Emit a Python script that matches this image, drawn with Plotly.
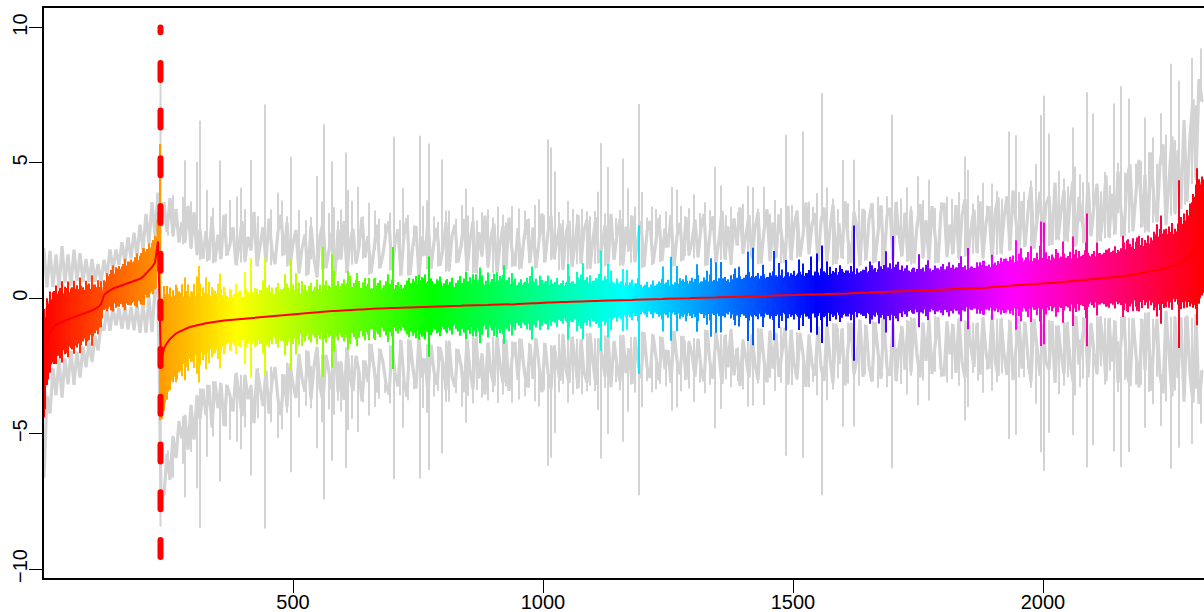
import colorsys
import plotly.graph_objects as go

# column positions: one value every 6 x-units starting at x=2
col_start = 2
col_step = 6

median = [
-2.4,-1.6,-1.25,-1.08,-.98,-.92,-.87,-.82,-.78,-.74,-.70,-.67,-.63,-.59,-.55,-.5,-.45,-.39,-.33,-.22,
.12,.22,.3,.36,.4,.44,.47,.51,.55,.58,.62,.66,.72,.8,.92,1.03,1.15,1.32,2.1,-2.35,
-1.85,-1.65,-1.5,-1.4,-1.3,-1.24,-1.18,-1.13,-1.09,-1.05,-1.02,-.99,-.96,-.94,-.92,-.9,-.88,-.87,-.85,-.84,
-.82,-.81,-.8,-.78,-.77,-.76,-.75,-.74,-.73,-.72,-.71,-.70,-.69,-.68,-.67,-.66,-.65,-.64,-.63,-.62,
-.61,-.6,-.6,-.59,-.58,-.57,-.56,-.55,-.54,-.53,-.52,-.51,-.5,-.5,-.49,-.48,-.47,-.47,-.46,-.45,
-.45,-.44,-.43,-.43,-.42,-.41,-.41,-.4,-.4,-.39,-.39,-.38,-.38,-.37,-.37,-.36,-.36,-.36,-.35,-.35,
-.35,-.34,-.34,-.33,-.33,-.33,-.32,-.32,-.31,-.31,-.31,-.3,-.3,-.3,-.29,-.29,-.29,-.28,-.28,-.28,
-.27,-.27,-.27,-.26,-.26,-.26,-.25,-.25,-.25,-.24,-.24,-.24,-.23,-.23,-.23,-.22,-.22,-.22,-.21,-.2,
-.19,-.19,-.18,-.18,-.18,-.17,-.17,-.16,-.16,-.16,-.15,-.15,-.14,-.14,-.14,-.13,-.13,-.12,-.12,-.12,
-.11,-.11,-.1,-.1,-.1,-.09,-.09,-.09,-.08,-.08,-.08,-.07,-.07,-.07,-.06,-.06,-.06,-.05,-.05,-.05,
-.05,-.04,-.04,-.04,-.03,-.03,-.03,-.02,-.02,-.02,-.01,-.01,-.01,0,0,0,.01,.01,.01,.02,
.02,.02,.03,.03,.03,.04,.04,.04,.05,.05,.05,.06,.06,.06,.07,.07,.07,.08,.08,.08,
.09,.09,.09,.1,.1,.1,.11,.11,.11,.12,.12,.12,.13,.13,.13,.14,.14,.14,.15,.15,
.15,.16,.16,.16,.17,.17,.18,.18,.18,.19,.19,.2,.2,.2,.21,.21,.22,.22,.22,.23,
.23,.24,.24,.25,.25,.25,.26,.26,.27,.27,.28,.28,.28,.29,.29,.3,.3,.31,.31,.32,
.32,.33,.33,.34,.34,.35,.35,.36,.36,.37,.37,.38,.38,.39,.39,.4,.41,.42,.43,.45,
.46,.47,.48,.48,.49,.5,.5,.51,.51,.52,.53,.53,.54,.55,.55,.56,.57,.57,.58,.59,
.6,.61,.62,.63,.64,.65,.66,.67,.68,.69,.7,.71,.72,.73,.74,.75,.76,.77,.78,.8,
.81,.83,.85,.87,.89,.91,.93,.95,.97,.99,1.01,1.03,1.06,1.09,1.12,1.15,1.18,1.22,1.26,1.3,
1.38,1.46,1.6,1.75,1.9,2.1,2.3]

colour_core = [
1.5,1.25,1.15,1.05,1.1,.95,1.0,.9,.95,.85,.8,.9,.75,.8,.7,.75,.65,.7,.6,.55,
.3,.35,.4,.35,.45,.4,.5,.45,.55,.5,.55,.6,.55,.65,.6,.7,.6,.7,.8,.9,
1.9,1.7,1.5,1.3,1.25,1.1,1.15,1.0,1.05,.95,1.0,.9,.95,.85,.9,.85,.8,.9,.8,.85,
.65,.7,.6,.7,.65,.6,.65,.55,.65,.6,.65,.55,.6,.65,.55,.6,.65,.55,.6,.55,
.6,.55,.65,.55,.6,.5,.6,.55,.6,.65,.55,.6,.5,.55,.6,.5,.55,.6,.55,.65,
.65,.7,.6,.75,.65,.7,.6,.65,.55,.6,.5,.55,.6,.5,.55,.45,.5,.55,.45,.5,
.45,.55,.5,.6,.65,.6,.7,.8,.7,.75,.65,.6,.65,.55,.5,.55,.6,.5,.55,.45,
.55,.5,.6,.55,.65,.6,.65,.55,.6,.5,.65,.55,.6,.65,.55,.6,.5,.55,.45,.5,
.45,.5,.55,.45,.4,.5,.45,.4,.45,.35,.4,.45,.35,.4,.35,.45,.4,.5,.45,.55,
.65,.7,.6,.55,.6,.65,.7,.6,.65,.55,.6,.5,.55,.45,.5,.45,.5,.4,.45,.4,
.35,.4,.35,.4,.35,.4,.45,.4,.45,.4,.35,.4,.45,.5,.55,.5,.45,.55,.45,.5,
.45,.5,.55,.5,.45,.5,.45,.5,.4,.45,.5,.55,.5,.45,.5,.55,.6,.5,.55,.5,
.55,.5,.55,.6,.5,.55,.6,.55,.65,.6,.65,.55,.6,.65,.6,.65,.6,.55,.6,.55,
.6,.65,.55,.6,.65,.6,.55,.65,.6,.7,.6,.65,.55,.6,.65,.6,.65,.7,.65,.6,
.7,.65,.75,.7,.75,.65,.7,.65,.6,.55,.65,.6,.55,.6,.7,.6,.55,.65,.6,.7,
.55,.6,.55,.65,.6,.65,.55,.6,.65,.6,.55,.6,.65,.7,.6,.65,.55,.6,.65,.7,
.7,.65,.7,.75,.8,.7,.75,.7,.85,.75,.7,.75,.8,.7,.75,.7,.75,.65,.7,.65,
.7,.65,.75,.7,.8,.7,.65,.75,.7,.65,.7,.75,.7,.65,.7,.75,.7,.8,.7,.75,
.75,.8,.7,.8,.75,.85,.8,.75,.85,.8,.9,1.1,1.0,.85,.9,.95,1.05,.9,1.0,1.1,
1.15,1.2,1.3,1.5,1.8,1.9,2.0]

colour_thin = [
2.0,1.6,1.5,1.3,1.45,1.2,1.5,1.25,1.4,1.1,1.35,1.15,1.4,1.0,1.2,1.05,1.3,.9,1.0,.85,
.55,.7,.6,.85,.65,.75,.7,.95,.8,.85,.75,1.0,.85,1.05,.8,1.0,.9,1.0,1.1,1.3,
2.3,2.1,1.9,1.7,1.8,1.5,1.7,1.4,1.6,1.3,1.55,1.2,1.5,1.35,1.2,1.5,1.3,1.15,1.4,1.2,
1.25,.9,1.15,.85,1.3,1.0,.8,1.2,.95,1.3,.85,1.05,1.0,1.35,.85,1.15,1.05,.8,1.2,.95,
1.0,1.15,.85,1.1,.8,1.15,.95,1.05,.75,1.1,.85,1.2,1.0,.8,1.15,.95,1.05,.75,1.1,.9,
1.15,1.0,1.25,.85,1.1,1.05,.8,1.15,.95,.75,1.1,.85,1.05,.75,1.0,.8,1.05,.7,.95,.85,
.75,1.0,.8,1.05,1.15,.85,1.1,1.2,.95,1.05,.8,1.0,1.1,.75,.95,.8,1.05,.7,.95,.8,
1.0,.8,1.05,.85,1.15,.95,1.1,.75,1.0,.85,1.15,.8,1.05,1.1,.85,1.0,.75,.95,.7,.9,
.75,.95,1.0,.7,.9,.65,.85,.75,.65,.85,.7,.9,.65,.8,.7,.95,.75,.65,.9,1.0,
.75,.9,.95,.7,.85,1.0,.75,.9,.7,.95,.65,.8,.6,.85,.65,.55,.75,.6,.8,.55,
.5,.65,.45,.7,.5,.65,.75,.55,.7,.8,.5,.65,.75,.7,.85,.55,.75,.7,.85,.6,
.75,.7,.85,.6,.8,.7,.55,.75,.65,.8,.85,.7,.75,.65,.8,.9,.75,.7,.85,.75,
.8,.7,.85,.9,.75,.8,.95,.7,.85,.8,.9,.75,.85,.95,.8,.9,.7,.85,.8,.95,
.85,.9,.75,.85,.95,.8,.9,.75,.85,1.0,.8,.9,.75,.85,.95,.8,1.0,.9,.85,.95,
1.0,.85,1.05,.9,1.0,.8,.95,.85,.75,.7,.85,.8,.7,.85,.95,.75,.7,.9,.8,.85,
.7,.85,.75,.9,.8,.95,.7,.85,.9,.8,.75,.85,.95,1.0,.8,.85,.75,.9,.95,1.05,
1.0,.9,1.05,1.1,.95,1.15,1.0,.9,1.2,1.05,.95,1.15,1.1,.95,1.15,1.0,1.05,.9,1.1,.95,
1.05,.9,1.1,1.0,1.15,.95,.9,1.1,1.0,.85,1.05,1.15,.95,.9,1.05,1.1,.95,1.15,1.0,1.05,
1.25,1.3,1.15,1.35,1.2,1.4,1.3,1.2,1.35,1.25,1.45,1.7,1.5,1.3,1.45,1.5,1.6,1.35,1.5,1.7,
1.75,1.8,1.9,2.1,2.3,2.3,2.2]

colour_thin2 = [
1.7,1.4,1.2,1.35,1.15,1.3,1.05,1.2,1.0,1.15,1.05,.95,1.1,.9,1.05,.85,.95,.8,.75,.5,
.5,.6,.75,.55,.7,.65,.8,.7,.8,.75,.9,.75,.95,.85,.9,.85,1.0,.95,1.2,2.1,
2.0,1.8,1.55,1.5,1.35,1.45,1.25,1.4,1.15,1.3,1.1,1.25,1.05,1.15,1.1,1.0,1.2,1.05,1.1,.95,
1.05,.85,1.1,.95,.9,1.05,.8,1.1,.85,.95,1.1,.85,1.0,.8,1.05,.9,.8,1.05,.85,.95,
.85,1.0,.8,.9,.95,.75,.9,.85,1.0,.8,.95,.85,.75,1.0,.8,.9,.85,.95,.8,1.0,
.9,1.05,.85,1.0,.9,.8,1.0,.85,.9,.75,.85,.95,.7,.85,.8,.9,.7,.85,.75,.7,
.85,.75,.9,.95,.85,1.0,1.05,.9,.85,.95,.85,.95,.75,.85,.8,.9,.75,.85,.7,.85,
.8,.9,.8,.95,.85,1.0,.8,.9,.75,.95,.85,.9,.95,.8,.9,.75,.85,.7,.8,.7,
.8,.75,.7,.8,.65,.75,.7,.8,.65,.7,.75,.65,.7,.6,.75,.7,.75,.65,.8,.7,
.8,.7,.65,.75,.8,.7,.75,.8,.65,.7,.6,.65,.7,.55,.6,.65,.5,.6,.5,.45,
.55,.45,.55,.5,.55,.6,.5,.6,.5,.55,.6,.55,.65,.6,.65,.65,.6,.7,.55,.6,
.65,.6,.7,.65,.6,.65,.7,.6,.55,.65,.7,.6,.65,.7,.6,.7,.65,.75,.65,.7,
.65,.7,.75,.65,.7,.75,.65,.8,.7,.75,.7,.8,.75,.7,.8,.75,.7,.75,.7,.75,
.8,.7,.75,.8,.7,.75,.8,.85,.75,.8,.7,.75,.8,.85,.75,.8,.85,.75,.8,.85,
.8,.9,.85,.9,.75,.8,.75,.7,.75,.8,.7,.75,.8,.7,.75,.8,.75,.8,.75,.7,
.75,.7,.8,.75,.8,.75,.8,.7,.75,.8,.75,.8,.85,.75,.8,.75,.85,.8,.85,.9,
.85,.9,.95,.85,.9,.95,.85,1.0,.9,.85,.95,.9,.85,.95,.9,.85,.95,.85,.9,.85,
.9,.95,.85,1.0,.85,.9,.95,.85,.9,.95,.85,.95,.9,.95,.85,.95,1.0,.9,.95,.9,
1.0,.95,1.05,.95,1.1,1.05,1.0,1.1,1.05,1.15,1.35,1.25,1.1,1.2,1.25,1.3,1.2,1.25,1.4,1.45,
1.5,1.6,1.8,2.0,2.1,2.1,2.1]

grey_half = [
4.2,2.0,3.0,1.5,2.6,1.3,2.8,1.4,2.4,1.2,2.5,1.3,2.3,1.2,2.0,1.1,1.9,1.0,1.6,.8,
1.3,.6,1.5,.7,1.4,.8,1.6,.8,1.7,.9,1.8,.9,2.0,1.0,2.2,1.0,2.4,1.0,1.8,5.0,
5.4,4.1,5.2,3.7,4.6,3.3,4.0,3.2,4.5,2.9,4.2,2.6,3.5,2.4,3.4,2.3,3.9,2.2,3.2,2.3,
3.9,2.4,2.8,3.4,2.0,2.7,3.6,2.1,3.0,2.5,3.9,1.9,2.6,3.3,2.0,3.6,2.4,1.9,3.1,3.7,
2.2,3.4,1.8,2.6,3.1,1.5,2.4,2.9,1.4,3.2,2.0,1.3,2.8,3.3,1.6,2.2,2.9,1.3,3.0,1.9,
3.3,1.4,2.5,3.0,1.7,2.3,3.4,1.9,2.7,1.3,2.2,3.1,1.5,2.0,2.8,3.2,1.4,2.4,2.9,1.2,
2.7,3.3,1.2,2.3,3.0,1.1,2.6,1.9,3.2,1.4,2.4,2.9,1.5,2.1,3.1,1.3,2.6,3.0,1.6,2.2,
3.2,1.3,2.4,3.1,1.2,2.7,1.8,3.3,1.4,2.5,3.0,1.2,2.2,2.9,1.3,3.2,2.0,1.4,2.8,1.3,
2.4,3.1,1.5,2.8,1.3,2.2,3.3,1.5,2.6,3.2,1.6,2.3,2.9,1.2,2.5,3.0,1.3,2.1,3.2,1.4,
2.6,3.0,1.2,2.3,3.1,1.4,2.0,2.8,1.3,3.2,1.5,2.4,3.0,1.3,2.7,1.8,3.1,1.4,2.3,2.9,
1.2,2.5,2.9,1.3,2.2,3.0,1.4,2.6,1.9,3.1,1.2,2.3,2.8,1.4,3.0,1.6,2.1,2.9,1.5,2.6,
3.1,1.2,2.4,3.0,1.3,2.1,3.2,1.4,2.6,1.2,2.9,1.9,3.3,1.6,2.3,3.0,1.4,2.5,3.1,1.2,
2.4,3.2,1.3,2.7,1.4,3.0,2.1,1.2,3.3,1.3,2.5,3.1,1.4,2.2,3.4,1.5,2.6,3.0,1.2,2.7,
3.2,1.2,2.4,3.3,1.1,2.6,1.3,3.4,2.0,1.1,3.0,2.4,1.0,3.1,1.2,2.7,3.3,1.1,2.2,3.2,
1.0,2.8,3.1,1.2,3.3,2.1,1.3,2.9,1.1,3.0,1.0,2.4,3.2,1.2,2.6,1.1,3.1,2.0,1.0,2.9,
3.2,1.2,2.4,1.3,3.1,1.1,2.7,3.3,1.2,2.2,2.9,1.3,3.2,1.1,2.4,3.0,1.0,2.7,3.3,1.2,
2.5,3.3,1.3,3.5,2.2,1.2,3.1,1.4,2.7,3.6,1.3,2.4,3.4,1.5,2.9,3.2,1.4,3.7,1.6,2.6,
3.4,1.5,2.9,3.7,1.3,3.1,2.2,1.4,3.6,1.6,2.7,3.5,1.4,2.3,3.8,1.5,3.1,1.6,3.9,2.4,
1.5,3.6,4.1,1.6,3.0,4.2,1.7,3.6,1.5,4.4,2.6,1.8,3.9,4.6,1.6,3.4,4.8,1.9,4.2,2.0,
5.2,2.1,4.4,5.6,2.5,6.0,5.0]

grey_spike_x = [260,280,284,308,314,328,354,388,396,416,444,470,478,496,
548,558,562,578,582,606,610,618,630,652,664,702,720,754,760,768,772,798,812,838,846,860,890,910,938,952,984,992,1010,1016,1024,1050,1078,1088,1110,
1116,1130,1160,1170,1192,1198,1218,1258,1268,1302,1344,1356,1410,1420,1442,1486,1520,1548,1558,1568,1600,1622,1688,1698,
1728,1750,1772,1808,1832,1844,1850,1880,1898,1932,1946,1952,1976,1986,1996,2002,2012,2026,2032,2060,2064,2088,2100,2116,2134,2142,2156,2172,2186,2204,2220,2236,2246,2256,2272,2298,2316,
250,296,340,366,374,404,430,456,488,512,526,
536,572,590,596,640,672,684,694,714,730,742,782,790,806,826,850,868,878,900,920,926,964,972,1002,1032,1040,1060,1068,1094,1104,
1124,1146,1154,1176,1184,1208,1226,1234,1246,1276,1284,1292,1314,1324,1334,1366,1376,1390,1400,1430,1454,1464,1476,1498,1508,1532,1540,1580,1590,1610,1632,1644,1660,1670,1678,1708,1716,
1736,1760,1784,1796,1818,1860,1870,1888,1908,1918,1962,1970,2042,2050,2074,2080,2108,2124,2150,2164,2196,2212,2228,2264,2284,2306]
grey_spike_half = [5.2,4.9,6.2,6.0,7.5,4.9,5.9,4.5,4.8,5.8,7.8,4.5,4.2,5.8,
5.0,4.05,6.9,5.5,3.8,5.8,4.4,4.0,4.5,3.9,3.6,6.3,4.4,6.3,3.7,3.9,6.0,5.4,3.5,3.7,4.3,3.6,3.5,3.6,3.6,3.5,3.6,3.8,6.0,5.7,4.8,3.7,3.4,3.3,4.0,
5.8,4.9,5.2,4.1,7.2,3.95,3.4,4.1,4.0,3.8,4.8,4.1,4.05,4.0,4.0,5.9,6.0,3.7,7.4,3.9,4.9,4.9,3.5,6.5,
3.8,4.2,4.05,3.4,3.55,4.85,4.35,3.85,3.8,5.65,5.5,3.4,3.8,4.4,6.2,6.9,5.5,3.4,4.1,5.65,4.2,6.9,6.1,3.2,3.4,6.4,7.0,6.5,4.05,5.7,4.9,5.75,4.9,7.45,6.75,7.1,6.9,
4.0,4.6,4.2,3.9,4.4,4.0,3.7,3.9,3.6,3.8,3.4,
3.5,3.6,3.3,3.7,3.4,3.3,3.1,3.5,3.2,3.4,3.0,3.3,3.1,3.5,3.2,3.3,3.1,3.4,3.2,3.3,3.0,3.4,3.1,3.2,3.3,3.0,3.4,3.2,3.1,3.3,
3.2,3.0,3.3,3.1,3.4,3.0,3.3,3.1,3.2,3.4,3.0,3.3,3.1,3.5,3.2,3.0,3.3,3.1,3.4,3.2,3.0,3.5,3.2,3.3,3.1,3.4,3.2,3.5,3.1,3.3,3.4,3.0,3.2,3.5,3.1,3.3,3.4,
3.1,3.3,3.0,3.2,3.3,3.1,3.4,3.0,3.5,3.2,3.4,3.1,3.8,3.5,3.9,3.6,3.5,3.9,4.2,3.8,4.1,4.4,3.9,4.6,4.3,5.2]

colour_spike_x = [50,70,128,146,170,188,202,224,268,284,308,312,326,354,404,416,444,484,496,506,
518,560,578,582,610,628,652,664,690,700,732,752,760,772,796,808,834,846,860,874,890,908,922,938,944,978,994,1010,1028,1050,1068,1080,1100,
1116,1130,1136,1160,1168,1192,1240,1256,1268,1308,1328,1336,1346,1356,1384,1392,1410,1420,1440,1462,1472,1486,1512,1520,1536,1548,1558,1568,1574,1594,1622,1654,1672,1686,1700,1710,
1728,1740,1752,1770,1800,1812,1836,1850,1868,1882,1898,1926,1946,1956,1976,1994,1996,2002,2026,2040,2060,2072,2086,2088,2108,2130,2160,2170,2188,2204,2222,2236,2242,2256,2272,2292,2298,2308]
colour_spike_half = [1.33,1.0,.45,.75,.8,.9,1.05,.95,1.7,1.9,1.8,2.15,1.7,1.75,1.7,2.2,2.15,1.5,2.05,1.5,
1.2,2.4,2.1,1.5,1.45,1.35,1.15,1.15,1.25,2.25,1.1,1.2,1.05,1.85,.9,1.0,1.1,1.25,1.15,1.4,1.2,1.2,1.45,1.15,.9,1.35,1.0,1.0,.9,1.4,1.1,1.4,.75,
1.85,1.35,1.1,1.15,1.1,2.75,1.2,1.55,1.2,1.25,1.0,1.45,1.3,1.3,1.05,1.1,1.65,1.8,1.15,1.65,1.2,1.3,1.3,1.15,1.4,1.5,1.8,1.2,1.0,1.05,2.5,1.15,1.15,1.5,2.05,1.1,
.95,.85,1.35,1.1,.95,1.0,1.2,1.5,.95,1.0,1.2,1.0,1.65,1.35,1.4,1.4,2.3,2.25,1.25,1.5,1.65,1.1,1.4,2.45,1.35,1.05,1.5,1.35,1.35,1.05,1.1,2.0,1.45,1.25,3.1,1.1,1.8,2.9]

# the column at the break in the median, read as absolute values
break_x = 235
break_grey = [-8.4, 8.5]
break_colour = [-4.5, 5.7]
break_line_y = [-9.55, 10]

x_ticks = [500, 1000, 1500, 2000]
y_ticks = [-10, -5, 0, 5, 10]
x_range = [2, 2322]
y_range = [-10.33, 10.72]
x_full = x_range[1]


def rainbow(x):
    r, g, b = colorsys.hsv_to_rgb(max(x - x_range[0], 0) / x_full, 1, 1)
    return f"rgb({round(r*255)},{round(g*255)},{round(b*255)})"


n = len(median)
col_x = [col_start + col_step * i for i in range(n)]
half_x = [x + col_step / 2 for x in col_x]


def col_index(x):
    return min(n - 1, max(0, round((x - col_start) / col_step)))


GREY = "#D3D3D3"
fig = go.Figure()
# grey zig-zag bands above and below the median
fig.add_trace(go.Scatter(x=col_x, y=[m + g for m, g in zip(median, grey_half)], mode="lines",
                         line=dict(color=GREY, width=3.2), hoverinfo="skip"))
fig.add_trace(go.Scatter(x=col_x, y=[m - g for m, g in zip(median, grey_half)], mode="lines",
                         line=dict(color=GREY, width=3.2), hoverinfo="skip"))
# tall grey spikes, drawn outward from the inner edge of the band
sx, sy = [], []
for x, w in zip(grey_spike_x, grey_spike_half):
    i = col_index(x)
    inner = min(grey_half[i], grey_half[min(i + 1, n - 1)])
    sx += [x, x, None, x, x, None]
    sy += [median[i] + inner, median[i] + w, None, median[i] - inner, median[i] - w, None]
sx += [break_x, break_x]
sy += break_grey
fig.add_trace(go.Scatter(x=sx, y=sy, mode="lines", line=dict(color=GREY, width=2),
                         connectgaps=False, hoverinfo="skip"))

# coloured columns on an overlaying pair of axes so they sit above the grey lines
fig.add_trace(go.Bar(x=col_x, base=[m - c for m, c in zip(median, colour_core)],
                     y=[2 * c for c in colour_core], width=col_step,
                     marker=dict(color=[rainbow(x) for x in col_x], line_width=0),
                     xaxis="x2", yaxis="y2", hoverinfo="skip"))
fig.add_trace(go.Bar(x=col_x, base=[m - c for m, c in zip(median, colour_thin)],
                     y=[2 * c for c in colour_thin], width=2.2,
                     marker=dict(color=[rainbow(x) for x in col_x], line_width=0),
                     xaxis="x2", yaxis="y2", hoverinfo="skip"))
fig.add_trace(go.Bar(x=half_x, base=[m - c for m, c in zip(median, colour_thin2)],
                     y=[2 * c for c in colour_thin2], width=2.2,
                     marker=dict(color=[rainbow(x) for x in half_x], line_width=0),
                     xaxis="x2", yaxis="y2", hoverinfo="skip"))
spike_c = [median[col_index(x)] for x in colour_spike_x]
fig.add_trace(go.Bar(x=colour_spike_x + [break_x],
                     base=[c - s for c, s in zip(spike_c, colour_spike_half)] + [break_colour[0]],
                     y=[2 * s for s in colour_spike_half] + [break_colour[1] - break_colour[0]],
                     width=2.2,
                     marker=dict(color=[rainbow(x) for x in colour_spike_x + [break_x]], line_width=0),
                     xaxis="x2", yaxis="y2", hoverinfo="skip"))
fig.add_trace(go.Scatter(x=col_x, y=median, mode="lines", line=dict(color="#FF0000", width=2),
                         xaxis="x2", yaxis="y2", hoverinfo="skip"))
fig.add_trace(go.Scatter(x=[break_x, break_x], y=break_line_y, mode="lines",
                         line=dict(color="#FF0000", width=6, dash="17px,30.7px"),
                         xaxis="x2", yaxis="y2", hoverinfo="skip"))

font = dict(family="Liberation Sans", size=20, color="black")
fig.update_layout(
    width=1204, height=612, autosize=False, showlegend=False, barmode="overlay",
    paper_bgcolor="white", plot_bgcolor="white",
    margin=dict(l=44, r=0, t=8, b=34, pad=0),
    xaxis=dict(range=x_range, tickvals=x_ticks, ticks="outside", ticklen=13, tickwidth=1.3,
               tickcolor="black", linecolor="black", linewidth=2, mirror=True, showgrid=False,
               zeroline=False, tickfont=font, automargin=False, ticklabelstandoff=-8),
    yaxis=dict(range=y_range, tickvals=y_ticks, ticks="outside", ticklen=13, tickwidth=1.3,
               tickcolor="black", linecolor="black", linewidth=2, showgrid=False,
               zeroline=False, tickfont=font, tickangle=-90, automargin=False, ticklabelstandoff=-6),
    xaxis2=dict(range=x_range, overlaying="x", visible=False),
    yaxis2=dict(range=y_range, overlaying="y", visible=False),
)
post = ("document.body.style.margin='0';document.body.style.overflow='hidden';"
        "var s=document.createElement('style');"
        "s.textContent='path.js-line{stroke-linecap:round !important}';"
        "document.head.appendChild(s);")
fig.write_html("out.html", config=dict(displayModeBar=False), post_script=post)
